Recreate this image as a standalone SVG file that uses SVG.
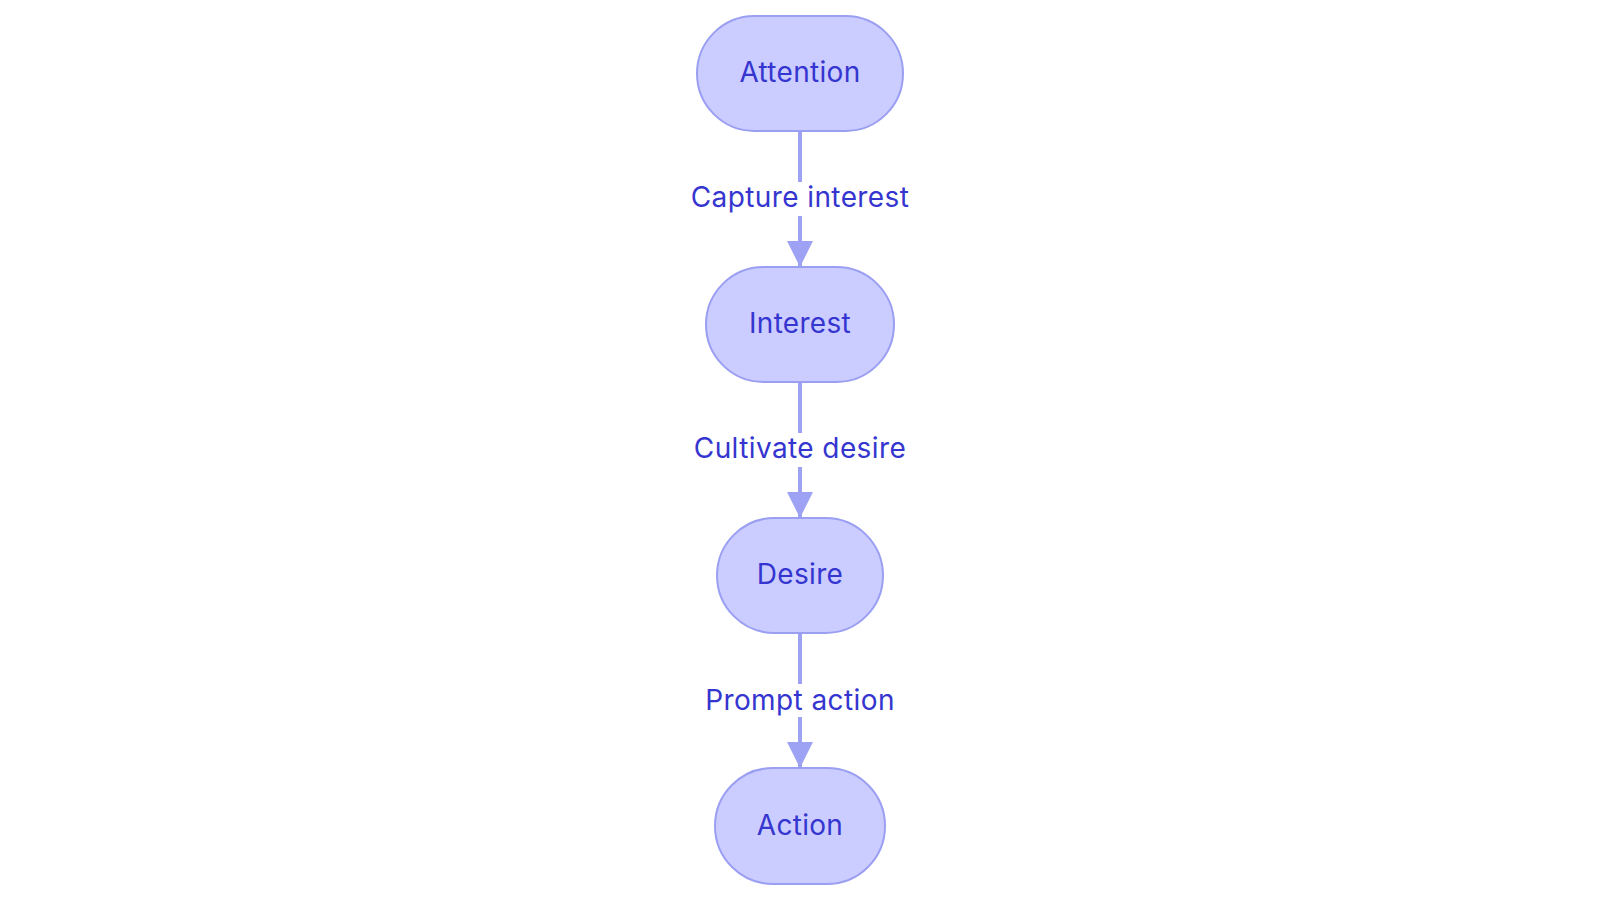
<svg xmlns="http://www.w3.org/2000/svg" width="1600" height="903" viewBox="0 0 1600 903">
  <style>
    .node rect { fill: #CBCCFF; stroke: #9B9FF2; stroke-width: 2; }
    .node text { font-family: Inter, "Noto Sans", "Liberation Sans", sans-serif; font-size: 28px; fill: #3535CF; text-anchor: middle; letter-spacing: 0.3px; }
    .edge line { stroke: #9EA2F4; stroke-width: 4; fill: none; }
    .label rect { fill: #FFFFFF; stroke: none; }
    .label text { font-family: Inter, "Noto Sans", "Liberation Sans", sans-serif; font-size: 28px; fill: #3535CF; text-anchor: middle; letter-spacing: 0.4px; }
  </style>
  <defs>
    <marker id="arrow" markerUnits="userSpaceOnUse" markerWidth="26" markerHeight="26" viewBox="0 0 26 26" refX="26" refY="13" orient="auto">
      <path d="M0,0 L26,13 L0,26 Z" fill="#9EA2F4"/>
    </marker>
  </defs>
  <rect width="1600" height="903" fill="#FFFFFF"/>
  <g id="connectors">
    <g class="edge">
      <line x1="800" y1="131" x2="800" y2="267" marker-end="url(#arrow)"/>
      <line x1="800" y1="382" x2="800" y2="518" marker-end="url(#arrow)"/>
      <line x1="800" y1="633" x2="800" y2="768" marker-end="url(#arrow)"/>
    </g>
    <g class="label">
      <rect x="688" y="182" width="224" height="34"/>
      <text x="800" y="207">Capture interest</text>
      <rect x="693" y="433" width="214" height="34"/>
      <text x="800" y="458">Cultivate desire</text>
      <rect x="703" y="684" width="194" height="33"/>
      <text x="800" y="710">Prompt action</text>
    </g>
  </g>
  <g id="node-attention" class="node">
    <rect x="697" y="16" width="206" height="115" rx="57.5" ry="57.5"/>
    <text x="800" y="81.5">Attention</text>
  </g>
  <g id="node-interest" class="node">
    <rect x="706" y="267" width="188" height="115" rx="57.5" ry="57.5"/>
    <text x="800" y="332.5">Interest</text>
  </g>
  <g id="node-desire" class="node">
    <rect x="717" y="518" width="166" height="115" rx="57.5" ry="57.5"/>
    <text x="800" y="583.5">Desire</text>
  </g>
  <g id="node-action" class="node">
    <rect x="715" y="768" width="170" height="116" rx="58" ry="58"/>
    <text x="800" y="834.5">Action</text>
  </g>
</svg>
